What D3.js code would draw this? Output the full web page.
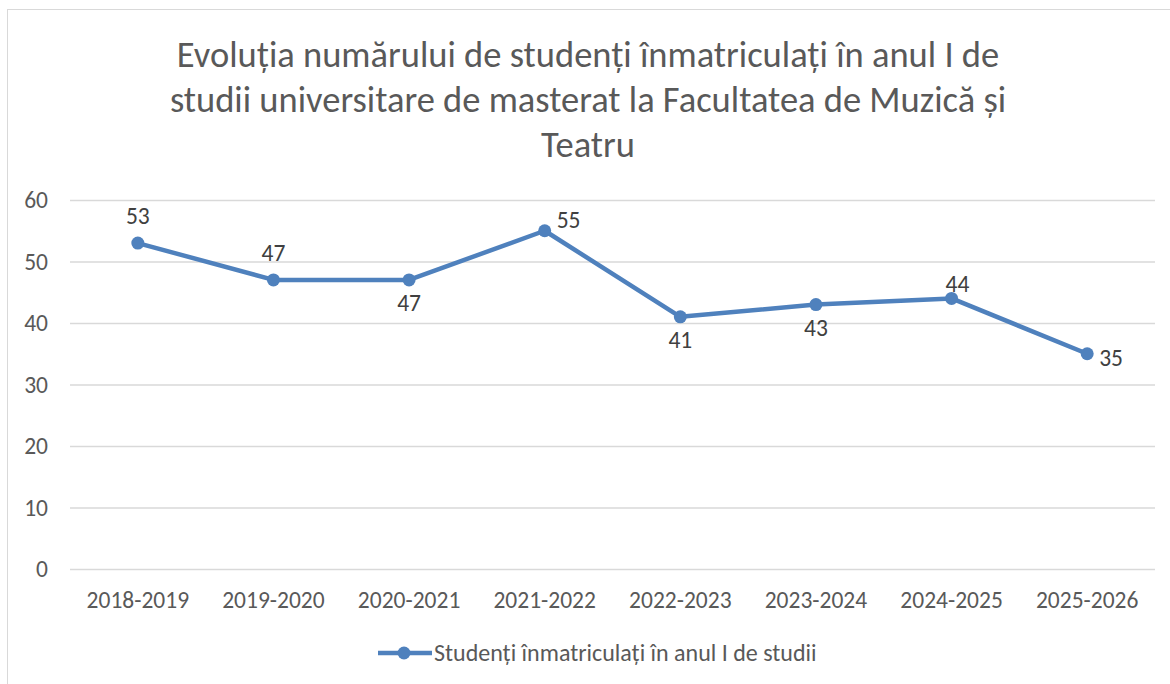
<!DOCTYPE html>
<html><head><meta charset="utf-8">
<script src="https://cdn.jsdelivr.net/npm/d3@7"></script>
<style>body{margin:0;background:#fff}svg{display:block}text{font-family:Carlito,Calibri,"Open Sans","Liberation Sans",sans-serif}</style>
</head><body>
<svg id="c" width="1170" height="684"></svg>
<script>
const categories = ["2018-2019","2019-2020","2020-2021","2021-2022","2022-2023","2023-2024","2024-2025","2025-2026"];
const values = [53,47,47,55,41,43,44,35];
const labelPos = ["top","top","bottom","right","bottom","bottom","topright","right"];
const yTicks = [0,10,20,30,40,50,60];
const titleLines = ["Evoluția numărului de studenți înmatriculați în anul I de","studii universitare de masterat la Facultatea de Muzică și","Teatru"];
const seriesName = "Studenți înmatriculați în anul I de studii";

const svg = d3.select("#c");
const color = "#4f81bd";
svg.append("rect").attr("x",7.5).attr("y",9.5).attr("width",1170).attr("height",690).attr("fill","#fff").attr("stroke","#d9d9d9");

svg.selectAll(".t").data(titleLines).enter().append("text")
  .attr("x",588).attr("y",(d,i)=>67+i*45).attr("text-anchor","middle")
  .attr("font-size",36.5).attr("font-weight",300).attr("fill","#595959").text(d=>d);

const x = d3.scaleBand().domain(categories).range([70,1155]);
const y = d3.scaleLinear().domain([0,60]).range([569,200]);

const g = svg.append("g");
g.selectAll(".grid").data(yTicks).enter().append("line")
  .attr("x1",70).attr("x2",1155).attr("y1",d=>y(d)+0.5).attr("y2",d=>y(d)+0.5)
  .attr("stroke","#d9d9d9").attr("stroke-width",1.3);

const ya = svg.append("g").attr("transform","translate(48,0)").call(d3.axisLeft(y).tickValues(yTicks).tickSize(0).tickPadding(0));
ya.select(".domain").remove();
ya.selectAll("text").attr("font-size",23.5).attr("fill","#595959").attr("font-family",null);

const xa = svg.append("g").attr("transform","translate(0,569)").call(d3.axisBottom(x).tickSize(0).tickPadding(22));
xa.select(".domain").remove();
xa.selectAll("text").attr("font-size",23.5).attr("fill","#595959").attr("font-family",null);

const cx = (d,i)=>x(categories[i])+x.bandwidth()/2;
svg.append("path").datum(values)
  .attr("d",d3.line().x((d,i)=>cx(d,i)).y(d=>y(d)))
  .attr("fill","none").attr("stroke",color).attr("stroke-width",4.5).attr("stroke-linejoin","round");
svg.selectAll(".pt").data(values).enter().append("circle")
  .attr("cx",cx).attr("cy",d=>y(d)).attr("r",6.5).attr("fill",color);

svg.selectAll(".lbl").data(values).enter().append("text")
  .attr("font-size",23.5).attr("fill","#404040")
  .attr("x",(d,i)=>{const p=labelPos[i];return p==="right"?cx(d,i)+12:p==="topright"?cx(d,i)-6:cx(d,i);})
  .attr("y",(d,i)=>{const p=labelPos[i];return p==="top"?y(d)-19:p==="bottom"?y(d)+31:p==="topright"?y(d)-6:y(d)+(i===3?-3:12);})
  .attr("text-anchor",(d,i)=>{const p=labelPos[i];return (p==="right"||p==="topright")?"start":"middle";})
  .text(d=>d);

const lg = svg.append("g").attr("transform","translate(378,653)");
lg.append("line").attr("x1",0).attr("x2",54).attr("stroke",color).attr("stroke-width",4.5);
lg.append("circle").attr("cx",26).attr("r",6.5).attr("fill",color);
lg.append("text").attr("x",56).attr("y",8).attr("font-size",24).attr("fill","#595959").text(seriesName);
</script>
</body></html>
